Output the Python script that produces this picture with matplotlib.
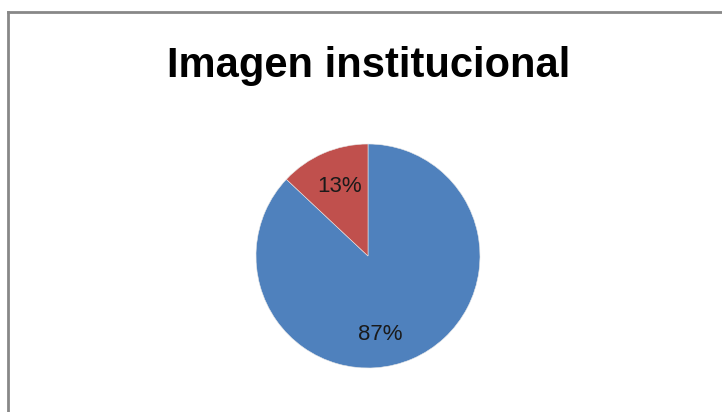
import matplotlib.pyplot as plt
import numpy as np

title = 'Imagen institucional'
categories = ['Sí', 'No']
shares = [87, 13]
colors = ['#4F81BD', '#C0504D']

plt.rcParams['font.family'] = ['Liberation Sans', 'DejaVu Sans']

fig = plt.figure(figsize=(7.22, 4.12), dpi=100)

# chart frame, only top and left edges show in the crop
fig.add_artist(plt.Line2D([8 / 722, 8 / 722], [0, 1 - 12 / 412],
                          color='#888888', lw=2))
fig.add_artist(plt.Line2D([8 / 722, 1], [1 - 12 / 412, 1 - 12 / 412],
                          color='#888888', lw=2))

fig.text(369 / 722, 1 - 66 / 412, title, ha='center', va='center',
         fontsize=30, fontweight='bold')

ax = fig.add_axes([(368 - 112) / 722, (412 - 368) / 412, 224 / 722, 224 / 412])
wedges, _ = ax.pie(shares, colors=colors, startangle=90, counterclock=False,
                   wedgeprops=dict(edgecolor='#e8e8e8', linewidth=0.4))
ax.set_xlim(-1, 1)
ax.set_ylim(-1, 1)
ax.set_aspect('equal')

# label positions as in the original (fraction of radius, angle)
label_pos = [(0.71, -81), (0.67, 112)]
for val, (r, ang) in zip(shares, label_pos):
    a = np.deg2rad(ang)
    ax.text(r * np.cos(a), r * np.sin(a), f'{val}%', ha='center',
            va='center', fontsize=16, color='#1a1a1a')

fig.savefig('out.png', dpi=100)
